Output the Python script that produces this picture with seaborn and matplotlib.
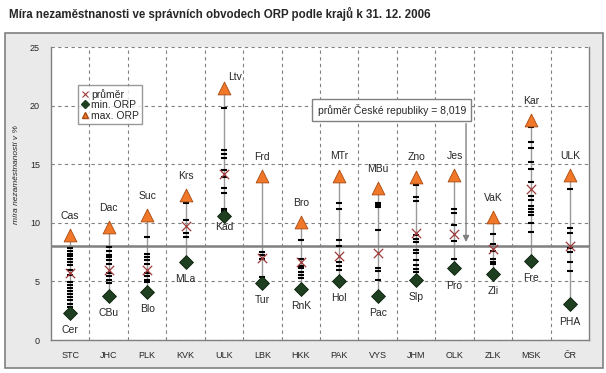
import matplotlib
matplotlib.use("Agg")
import matplotlib.pyplot as plt
import numpy as np
import pandas as pd
import seaborn as sns
from matplotlib.lines import Line2D
from matplotlib.patches import Rectangle

kraje = ['STC', 'JHC', 'PLK', 'KVK', 'ULK', 'LBK', 'HKK', 'PAK', 'VYS', 'JHM', 'OLK', 'ZLK', 'MSK', 'ČR']
prumer = [5.74, 5.95, 6.0, 9.75, 14.14, 7.02, 6.63, 7.17, 7.45, 9.1, 9.04, 7.74, 12.86, 8.02]
min_orp = [2.33, 3.78, 4.12, 6.68, 10.58, 4.89, 4.38, 5.06, 3.75, 5.12, 6.12, 5.63, 6.74, 3.05]
max_orp = [8.95, 9.62, 10.67, 12.37, 21.48, 13.99, 10.04, 14.0, 12.94, 13.93, 14.08, 10.47, 18.77, 14.08]
min_nazev = ['Cer', 'CBu', 'Blo', 'MLa', 'Kad', 'Tur', 'RnK', 'Hol', 'Pac', 'Slp', 'Pro', 'Zli', 'Fre', 'PHA']
max_nazev = ['Cas', 'Dac', 'Suc', 'Krs', 'Ltv', 'Frd', 'Bro', 'MTr', 'MBu', 'Zno', 'Jes', 'VaK', 'Kar', 'ULK']
prumer_cr = 8.019

# ostatni ORP v kraji
orp_stc = [8.57, 7.86, 7.57, 7.34, 7.14, 6.94, 6.63, 6.43, 6.0, 5.57, 4.94, 4.66, 4.43, 4.2, 3.94, 3.66, 3.43, 3.08, 2.8]
orp_jhc = [7.91, 7.57, 7.29, 7.05, 6.8, 6.49, 5.71, 5.43, 5.14, 4.86]
orp_plk = [8.8, 7.34, 7.09, 6.8, 6.51, 5.71, 5.43, 5.14, 4.91]
orp_kvk = [11.7, 10.28, 9.14, 8.8]
orp_ulk = [19.77, 16.22, 15.85, 15.5, 14.5, 13.9, 13.0, 12.57, 11.2, 11.0]
orp_lbk = [7.48, 7.26, 6.9, 5.37]
orp_hkk = [9.85, 8.57, 6.91, 6.3, 6.11, 5.8, 5.57, 5.29]
orp_pak = [11.65, 11.14, 8.57, 8.0, 6.63, 6.28, 6.0]
orp_vys = [11.71, 11.48, 11.31, 9.37, 6.14, 5.88, 5.08]
orp_jhm = [13.2, 12.23, 11.83, 9.0, 8.63, 8.37, 7.71, 7.43, 6.86, 6.43, 6.06, 5.77]
orp_olk = [11.14, 10.8, 9.8, 8.48, 6.94]
orp_zlk = [9.08, 8.2, 7.57, 6.91, 6.66, 6.51]
orp_msk = [18.14, 16.91, 16.34, 15.2, 14.57, 13.48, 12.28, 11.91, 11.43, 11.14, 10.91, 10.63, 10.0, 9.2]
orp_cr = [12.91, 9.57, 9.14, 7.86, 7.48, 6.66, 5.86]

orp_all = [orp_stc, orp_jhc, orp_plk, orp_kvk, orp_ulk, orp_lbk, orp_hkk,
           orp_pak, orp_vys, orp_jhm, orp_olk, orp_zlk, orp_msk, orp_cr]

orp = pd.DataFrame({'kraj': np.repeat(kraje, [len(v) for v in orp_all]),
                    'mira': np.concatenate(orp_all)})
souhrn = pd.DataFrame({'kraj': kraje, 'prumer': prumer, 'min': min_orp, 'max': max_orp})

sns.set_style("white")
plt.rcParams['font.family'] = ['Liberation Sans', 'DejaVu Sans']

fig = plt.figure(figsize=(6.06, 3.73), dpi=100)
fig.patches.append(Rectangle((5 / 606, 5 / 373), 598 / 606, 335 / 373, transform=fig.transFigure,
                             facecolor='#EAEAEA', edgecolor='#808080', lw=1.2, zorder=-5))
ax = fig.add_axes([51 / 606, 33 / 373, 538 / 606, 293 / 373])
ax.set_zorder(1)
ax.set_facecolor('white')

x = np.arange(len(kraje))
ax.vlines(x, souhrn['min'], souhrn['max'], color='#999999', lw=1.0, zorder=2)
ax.axhline(prumer_cr, color='#808080', lw=1.8, zorder=2.5)

sns.scatterplot(data=orp, x='kraj', y='mira', marker='_', s=18, linewidth=1.5,
                color='black', ax=ax, zorder=3, legend=False)
sns.scatterplot(data=souhrn, x='kraj', y='prumer', marker='x', s=45, linewidth=0.9,
                color='#A03A3A', ax=ax, zorder=4, legend=False)
sns.scatterplot(data=souhrn, x='kraj', y='min', marker='D', s=50, color='#1E3F20',
                edgecolor='#0A1F0A', linewidth=0.6, ax=ax, zorder=4, legend=False)
sns.scatterplot(data=souhrn, x='kraj', y='max', marker='^', s=85, color='#F07828',
                edgecolor='#A84A10', linewidth=0.6, ax=ax, zorder=4, legend=False)

for i in range(len(kraje)):
    dy = 8 if max_nazev[i] == 'Ltv' else 14
    dx = 8 if max_nazev[i] == 'Ltv' else 0
    ax.annotate(max_nazev[i], (i, max_orp[i]), xytext=(dx, dy), textcoords='offset points',
                ha='center', va='center', fontsize=7.5)
    dy = -8 if min_nazev[i] == 'Kad' else -12.5
    ax.annotate(min_nazev[i], (i, min_orp[i]), xytext=(0, dy), textcoords='offset points',
                ha='center', va='center', fontsize=7.5)

ax.set_xlim(-0.5, len(kraje) - 0.5)
ax.set_ylim(0, 25)
ax.set_yticks([0, 5, 10, 15, 20, 25])
ax.set_xticks(x)
ax.set_xticklabels(kraje)
ax.set_xticks(np.arange(len(kraje) - 1) + 0.5, minor=True)
ax.tick_params(axis='x', which='major', length=0, pad=8, labelsize=6.5)
ax.tick_params(axis='x', which='minor', length=3, width=0.8, color='#808080', direction='out')
ax.tick_params(axis='y', length=3, width=0.8, color='#808080', pad=5, labelsize=6.5)
ax.set_xlabel('')
ax.set_ylabel('')

ax.grid(False)
ax.xaxis.grid(True, which='minor', ls=(0, (3, 3)), color='#808080', lw=0.8)
ax.yaxis.grid(True, which='major', ls=(0, (3, 3)), color='#808080', lw=0.8)
ax.set_axisbelow(True)

for side in ['left', 'bottom', 'right']:
    ax.spines[side].set_color('#808080')
    ax.spines[side].set_linewidth(1.0)
ax.spines['top'].set_visible(False)

# prumer CR
ax.text(8.37, 19.62, 'průměr České republiky = 8,019', ha='center', va='center', fontsize=7.5,
        bbox=dict(boxstyle='square,pad=0.5', facecolor='white', edgecolor='#808080', lw=1))
ax.annotate('', xy=(10.3, prumer_cr + 0.1), xytext=(10.3, 18.7),
            arrowprops=dict(arrowstyle='-|>', color='#808080', lw=1, mutation_scale=9))

handles = [Line2D([], [], marker='x', ls='', color='#A03A3A', markersize=4.5, mew=0.8),
           Line2D([], [], marker='D', ls='', color='#1E3F20', markersize=4),
           Line2D([], [], marker='^', ls='', color='#F07828', mec='#A84A10', markersize=5)]
leg = ax.legend(handles, ['průměr', 'min. ORP', 'max. ORP'], loc='upper left',
                bbox_to_anchor=(0.05, 0.87), fontsize=7.5, frameon=True, fancybox=False,
                handlelength=0.6, handletextpad=0.3, borderpad=0.35, labelspacing=0.05,
                borderaxespad=0)
leg.get_frame().set_edgecolor('#808080')
leg.get_frame().set_linewidth(1)

fig.text(17 / 606, 1 - 175 / 373, 'míra nezaměstnanosti v %', rotation=90, style='italic',
         fontsize=6, ha='center', va='center')
fig.text(9 / 606, 1 - 14 / 373, 'Míra nezaměstnanosti ve správních obvodech ORP podle krajů k 31. 12. 2006',
         fontsize=8.3, fontweight='bold', ha='left', va='center')

fig.savefig('out.png', dpi=100)
